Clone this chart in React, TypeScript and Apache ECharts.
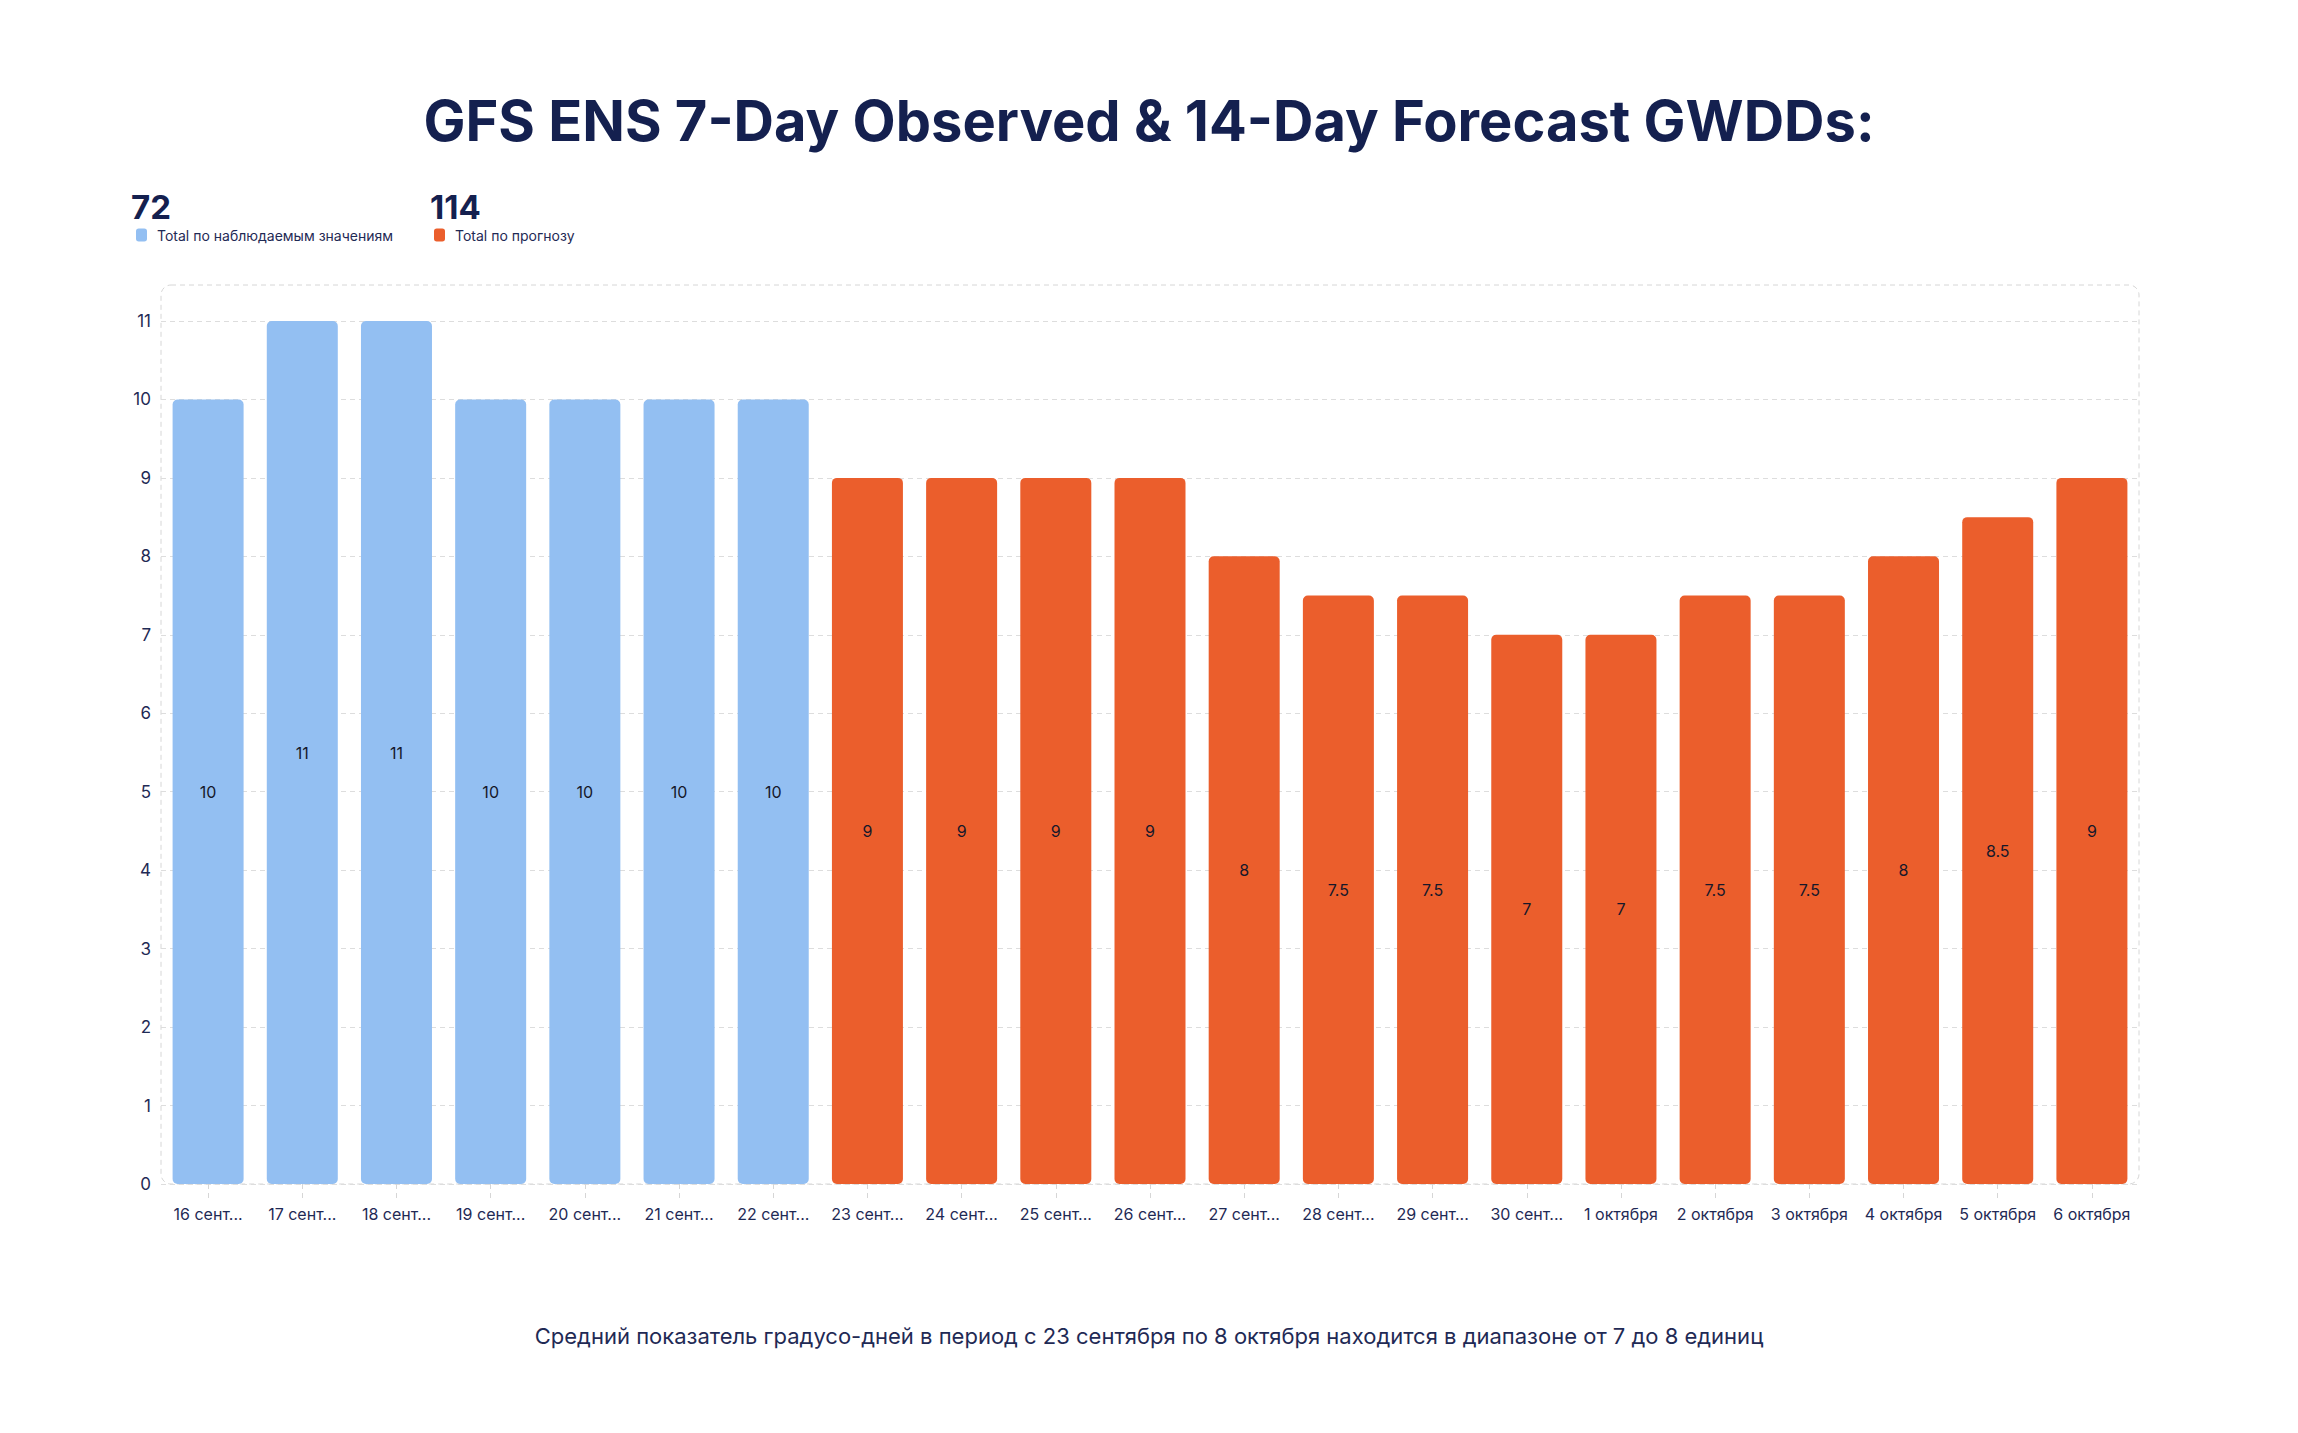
import React, { useEffect, useRef } from "react";
import * as echarts from "echarts";

const categories = [
  "16 сентября", "17 сентября", "18 сентября", "19 сентября", "20 сентября", "21 сентября", "22 сентября",
  "23 сентября", "24 сентября", "25 сентября", "26 сентября", "27 сентября", "28 сентября", "29 сентября",
  "30 сентября", "1 октября", "2 октября", "3 октября", "4 октября", "5 октября", "6 октября",
];
const observedValues = [10, 11, 11, 10, 10, 10, 10];
const forecastValues = [9, 9, 9, 9, 8, 7.5, 7.5, 7, 7, 7.5, 7.5, 8, 8.5, 9];
const observedName = "Total по наблюдаемым значениям";
const forecastName = "Total по прогнозу";
const titleText = "GFS ENS 7-Day Observed & 14-Day Forecast GWDDs:";
const footerText = "Средний показатель градусо-дней в период с 23 сентября по 8 октября находится в диапазоне от 7 до 8 единиц";
const yMin = 0;
const yMax = 11;
const yInterval = 1;

const FONT = "Inter, 'Noto Sans', sans-serif";
const NAVY = "#14204f";
const TEXT = "#1f2a55";
const BLUE = "#93bff2";
const ORANGE = "#eb5e2c";
const DASH = "#d6d6d6";

export default function App() {
  const ref = useRef<HTMLDivElement>(null);
  useEffect(() => {
    if (!ref.current) return;
    const chart = echarts.init(ref.current, undefined, { renderer: "svg" });
    const nObs = observedValues.length;
    const obsData = categories.map((_, i) => (i < nObs ? observedValues[i] : "-"));
    const fcData = categories.map((_, i) => (i >= nObs ? forecastValues[i - nObs] : "-"));
    const obsTotal = Math.round(observedValues.reduce((a, b) => a + b, 0));
    const fcTotal = Math.round(forecastValues.reduce((a, b) => a + b, 0));

    const gridLeft = 161;
    const gridRight = 159;
    const gridTop = 321;
    const gridBottom = 249;
    const W = 2298;
    const H = 1433;

    chart.setOption({
      animation: false,
      backgroundColor: "#ffffff",
      textStyle: { fontFamily: FONT },
      title: [
        {
          text: titleText,
          left: "center",
          top: 89,
          padding: 0,
          textStyle: { fontFamily: FONT, fontSize: 56, fontWeight: 700, color: NAVY, lineHeight: 64 },
        },
        {
          text: footerText,
          left: "center",
          top: 1322,
          padding: 0,
          textStyle: { fontFamily: FONT, fontSize: 22, fontWeight: 400, color: TEXT, lineHeight: 28 },
        },
      ],
      legend: [
        {
          data: [observedName],
          left: 136,
          top: 228,
          padding: 0,
          itemWidth: 11,
          itemHeight: 13,
          icon: "roundRect",
          selectedMode: false,
          textStyle: { fontFamily: FONT, fontSize: 14, color: TEXT, padding: [0, 0, 0, 5] },
        },
        {
          data: [forecastName],
          left: 434,
          top: 228,
          padding: 0,
          itemWidth: 11,
          itemHeight: 13,
          icon: "roundRect",
          selectedMode: false,
          textStyle: { fontFamily: FONT, fontSize: 14, color: TEXT, padding: [0, 0, 0, 5] },
        },
      ],
      graphic: [
        {
          type: "text",
          left: 131,
          top: 190,
          style: { text: String(obsTotal), fontFamily: FONT, fontSize: 33, fontWeight: 700, fill: NAVY },
        },
        {
          type: "text",
          left: 430,
          top: 190,
          style: { text: String(fcTotal), fontFamily: FONT, fontSize: 33, fontWeight: 700, fill: NAVY },
        },
        {
          type: "rect",
          silent: true,
          z: -1,
          shape: {
            x: gridLeft,
            y: 285,
            width: W - gridLeft - gridRight,
            height: H - gridBottom - 285,
            r: 10,
          },
          style: { fill: "none", stroke: DASH, lineWidth: 1, lineDash: [5, 4] },
        },
      ],
      grid: { left: gridLeft, right: gridRight, top: gridTop, bottom: gridBottom, containLabel: false },
      xAxis: {
        type: "category",
        data: categories,
        axisLine: { show: false },
        axisTick: {
          show: true,
          alignWithLabel: true,
          length: 14,
          lineStyle: { color: DASH, type: [5, 4] },
        },
        axisLabel: {
          interval: 0,
          margin: 22,
          fontFamily: FONT,
          fontSize: 16,
          color: TEXT,
          width: 88,
          overflow: "truncate",
          ellipsis: "...",
        },
        splitLine: { show: false },
      },
      yAxis: {
        type: "value",
        min: yMin,
        max: yMax,
        interval: yInterval,
        axisLine: { show: false },
        axisTick: { show: false },
        axisLabel: { margin: 10, fontFamily: FONT, fontSize: 17, color: TEXT },
        splitLine: { show: true, lineStyle: { color: "#dddddd", type: [5, 4] } },
      },
      series: [
        {
          name: observedName,
          type: "bar",
          stack: "total",
          data: obsData,
          barWidth: 71,
          itemStyle: { color: BLUE, borderRadius: 5 },
          label: { show: true, position: "inside", fontFamily: FONT, fontSize: 16, color: "#16182a" },
        },
        {
          name: forecastName,
          type: "bar",
          stack: "total",
          data: fcData,
          barWidth: 71,
          itemStyle: { color: ORANGE, borderRadius: 5 },
          label: { show: true, position: "inside", fontFamily: FONT, fontSize: 16, color: "#16182a" },
        },
      ],
    });
    return () => chart.dispose();
  }, []);
  return <div ref={ref} style={{ position: "fixed", left: 0, top: 0, width: 2298, height: 1433 }} />;
}
